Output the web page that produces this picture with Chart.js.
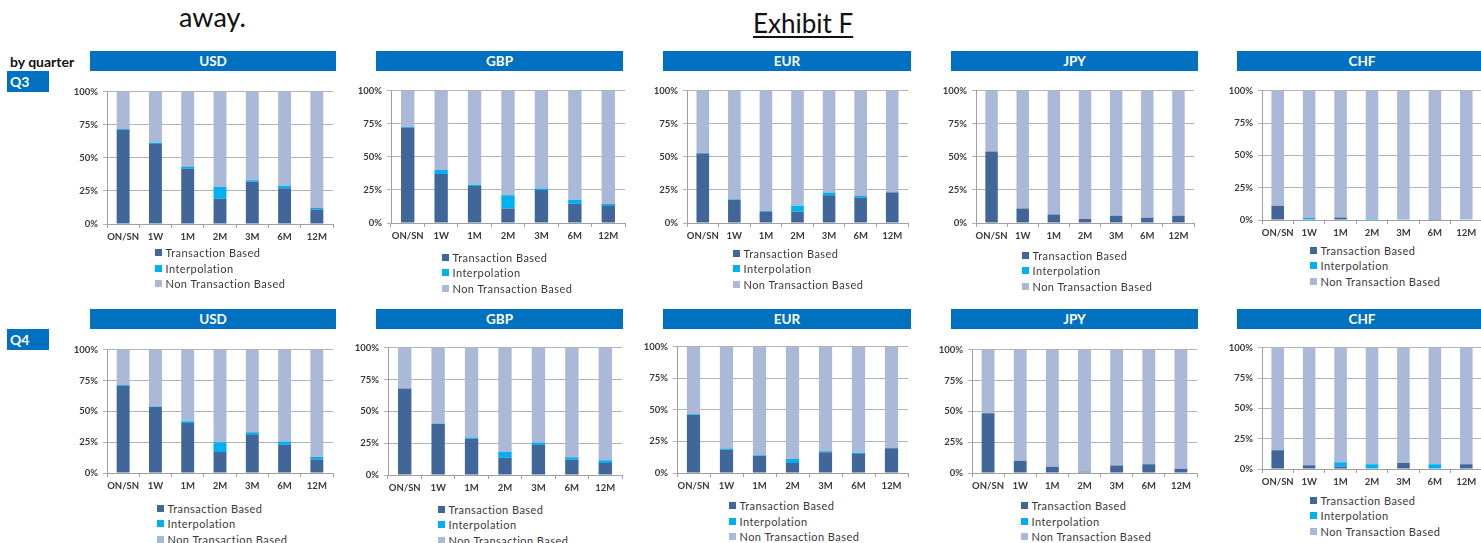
<!DOCTYPE html>
<html>
<head>
<meta charset="utf-8">
<script src="https://cdn.jsdelivr.net/npm/chart.js@4.4.0/dist/chart.umd.min.js"></script>
<style>
  html, body { margin: 0; padding: 0; background: #fff; }
  body { width: 1481px; height: 543px; position: relative; overflow: hidden; font-family: Lato, "Open Sans", sans-serif; }
  .abs { position: absolute; white-space: nowrap; }
  .hdr { position: absolute; background: #0070c0; color: #fff; font-weight: 700; font-size: 13.5px;
         display: flex; align-items: center; justify-content: center; }
  .qbox { position: absolute; background: #0070c0; color: #fff; font-weight: 700; font-size: 14px;
          line-height: 21px; padding-left: 3px; box-sizing: border-box; }
  .legend { position: absolute; font-size: 11px; letter-spacing: 0.45px; color: #3a3a3a; }
  .legend div { height: 15.6px; display: flex; align-items: center; white-space: nowrap; }
  .legend span.sw { display: inline-block; width: 7px; height: 7px; margin-right: 3.5px; }
  canvas { position: absolute; }
</style>
</head>
<body>
<div class="abs" style="left:179px; top:3px; font-size:27px; line-height:1; color:#111;">away.</div>
<div class="abs" style="left:753px; top:10px; font-size:26px; line-height:1; color:#111; text-decoration:underline; text-decoration-thickness:2px; text-underline-offset:3px;">Exhibit F</div>
<div class="abs" style="left:10px; top:55px; font-size:14px; font-weight:700; line-height:1; color:#111;">by quarter</div>
<div class="qbox" style="left:7px; top:71px; width:42px; height:21px;">Q3</div>
<div class="qbox" style="left:7px; top:329px; width:42px; height:21px;">Q4</div>

<script>
// ---- data (percent of quotes) ----
const tenors = ["ON/SN", "1W", "1M", "2M", "3M", "6M", "12M"];
const yTicks = [0, 25, 50, 75, 100];
const seriesNames = ["Transaction Based", "Interpolation", "Non Transaction Based"];
const seriesColors = ["#40669a", "#00b0f0", "#abb9d8"];

// Q3
const usdQ3Tx  = [71.5, 60.5, 42, 19, 32, 27, 11];
const usdQ3Int = [0.5, 1, 1.5, 9, 1, 2, 1];
const usdQ3Non = [28, 38.5, 56.5, 72, 67, 71, 88];
const gbpQ3Tx  = [72, 37, 28, 11, 25, 14.5, 13.5];
const gbpQ3Int = [0.5, 3, 1, 10, 1, 3, 1];
const gbpQ3Non = [27.5, 60, 71, 79, 74, 82.5, 85.5];
const eurQ3Tx  = [52.5, 17.5, 8.5, 8.5, 21, 19, 23];
const eurQ3Int = [0.5, 0.5, 0.5, 4.5, 2, 1.5, 0.5];
const eurQ3Non = [47, 82, 91, 87, 77, 79.5, 76.5];
const jpyQ3Tx  = [54, 11, 6.5, 3, 5.5, 4, 5.5];
const jpyQ3Int = [0, 0, 0, 0, 0, 0, 0];
const jpyQ3Non = [46, 89, 93.5, 97, 94.5, 96, 94.5];
const chfQ3Tx  = [11, 0.5, 2, 0, 0, 0.7, 0];
const chfQ3Int = [0, 1, 0, 1, 0.5, 0, 0];
const chfQ3Non = [89, 98.5, 98, 99, 99.5, 99.3, 100];

// Q4
const usdQ4Tx  = [71, 53.5, 40.5, 17, 31.5, 23, 11];
const usdQ4Int = [0.5, 0.5, 1.5, 8, 1.5, 2.5, 2];
const usdQ4Non = [28.5, 46, 58, 75, 67, 74.5, 87];
const gbpQ4Tx  = [68, 40, 28.5, 13.5, 23.5, 12, 9.5];
const gbpQ4Int = [0, 0.5, 1, 4.5, 2, 2, 2];
const gbpQ4Non = [32, 59.5, 70.5, 82, 74.5, 86, 88.5];
const eurQ4Tx  = [46, 18.5, 13.5, 8, 16.5, 15, 19.5];
const eurQ4Int = [0.5, 0.8, 0.5, 3, 0.7, 0.8, 0];
const eurQ4Non = [53.5, 80.7, 86, 89, 82.8, 84.2, 80.5];
const jpyQ4Tx  = [48.5, 10, 5, 1, 6, 7, 3.5];
const jpyQ4Int = [0, 0, 0, 0, 0, 0, 0];
const jpyQ4Non = [51.5, 90, 95, 99, 94, 93, 96.5];
const chfQ4Tx  = [15.5, 3, 2, 0, 5, 0, 4];
const chfQ4Int = [0, 0, 3.5, 4, 0, 4, 0];
const chfQ4Non = [84.5, 97, 94.5, 96, 95, 96, 96];

// ---- panel placement (axis x, right x, 100% y, 0% y, header, legend) ----
const panels = [
  { cur: "USD", data: [usdQ3Tx, usdQ3Int, usdQ3Non], ax: 107, rx: 333,  ty: 89,  by: 224, hx: 90,   hw: 246, hy: 51,  lx: 155,  ly: 252.7 },
  { cur: "GBP", data: [gbpQ3Tx, gbpQ3Int, gbpQ3Non], ax: 391, rx: 625,  ty: 88,  by: 223, hx: 376,  hw: 247, hy: 51,  lx: 442,  ly: 257.3 },
  { cur: "EUR", data: [eurQ3Tx, eurQ3Int, eurQ3Non], ax: 687, rx: 908,  ty: 88,  by: 223, hx: 663,  hw: 248, hy: 51,  lx: 733,  ly: 253.3 },
  { cur: "JPY", data: [jpyQ3Tx, jpyQ3Int, jpyQ3Non], ax: 976, rx: 1194, ty: 88,  by: 223, hx: 951,  hw: 247, hy: 51,  lx: 1022, ly: 255.3 },
  { cur: "CHF", data: [chfQ3Tx, chfQ3Int, chfQ3Non], ax: 1262, rx: 1482, ty: 88, by: 220, hx: 1237, hw: 250, hy: 51,  lx: 1310, ly: 250.3 },
  { cur: "USD", data: [usdQ4Tx, usdQ4Int, usdQ4Non], ax: 107, rx: 333,  ty: 347, by: 473, hx: 90,   hw: 246, hy: 309, lx: 157,  ly: 508.3 },
  { cur: "GBP", data: [gbpQ4Tx, gbpQ4Int, gbpQ4Non], ax: 388, rx: 622,  ty: 345, by: 475, hx: 376,  hw: 247, hy: 309, lx: 438,  ly: 509.3 },
  { cur: "EUR", data: [eurQ4Tx, eurQ4Int, eurQ4Non], ax: 677, rx: 908,  ty: 344, by: 473, hx: 663,  hw: 248, hy: 309, lx: 729,  ly: 505.7 },
  { cur: "JPY", data: [jpyQ4Tx, jpyQ4Int, jpyQ4Non], ax: 972, rx: 1197, ty: 347, by: 473, hx: 951,  hw: 247, hy: 309, lx: 1021, ly: 505.7 },
  { cur: "CHF", data: [chfQ4Tx, chfQ4Int, chfQ4Non], ax: 1262, rx: 1482, ty: 345, by: 469, hx: 1237, hw: 250, hy: 309, lx: 1310, ly: 500.3 }
];

const PAD_TOP = 8, Y_W = 40, X_H = 22, PAD_R = 2;

Chart.defaults.font.family = "Lato, 'Open Sans', sans-serif";
Chart.defaults.color = "#3a3a3a";

function addHeader(p) {
  const h = document.createElement("div");
  h.className = "hdr";
  h.style.left = p.hx + "px";
  h.style.top = p.hy + "px";
  h.style.width = p.hw + "px";
  h.style.height = "20px";
  h.textContent = p.cur;
  document.body.appendChild(h);
}

function addLegend(p) {
  const box = document.createElement("div");
  box.className = "legend";
  box.style.left = p.lx + "px";
  box.style.top = (p.ly - 7.8) + "px";
  seriesNames.forEach((name, i) => {
    const row = document.createElement("div");
    const sw = document.createElement("span");
    sw.className = "sw";
    sw.style.background = seriesColors[i];
    row.appendChild(sw);
    row.appendChild(document.createTextNode(name));
    box.appendChild(row);
  });
  document.body.appendChild(box);
}

function addChart(p) {
  const cv = document.createElement("canvas");
  const w = p.rx - p.ax + Y_W + PAD_R;
  const h = p.by - p.ty + PAD_TOP + X_H;
  cv.width = w; cv.height = h;
  cv.style.left = (p.ax - Y_W) + "px";
  cv.style.top = (p.ty - PAD_TOP) + "px";
  cv.style.width = w + "px";
  cv.style.height = h + "px";
  document.body.appendChild(cv);

  new Chart(cv, {
    type: "bar",
    data: {
      labels: tenors,
      datasets: seriesNames.map((name, i) => ({
        label: name,
        data: p.data[i],
        backgroundColor: seriesColors[i],
        borderWidth: 0,
        barPercentage: 0.4,
        categoryPercentage: 1
      }))
    },
    options: {
      responsive: false,
      animation: false,
      layout: { padding: { top: PAD_TOP, right: PAD_R, bottom: 0, left: 0 } },
      plugins: { legend: { display: false }, tooltip: { enabled: false } },
      scales: {
        x: {
          stacked: true,
          afterFit: s => { s.height = X_H; },
          grid: { display: true, drawOnChartArea: false, drawTicks: true, tickLength: 4, offset: true, color: "#a0a0a0" },
          border: { color: "#a0a0a0" },
          ticks: { padding: 3, font: { size: 9.5, weight: "bold" }, maxRotation: 0, autoSkip: false }
        },
        y: {
          stacked: true,
          min: yTicks[0],
          max: yTicks[yTicks.length - 1],
          afterFit: s => { s.width = Y_W; },
          afterBuildTicks: s => { s.ticks = yTicks.map(v => ({ value: v })); },
          grid: { color: "#b4b4b4", drawTicks: true, tickLength: 4 },
          border: { color: "#a0a0a0" },
          ticks: { padding: 5, font: { size: 9.5, weight: "bold" }, callback: v => v + "%" }
        }
      }
    }
  });
}

panels.forEach(p => {
  addHeader(p);
  addChart(p);
  addLegend(p);
});
</script>
</body>
</html>
